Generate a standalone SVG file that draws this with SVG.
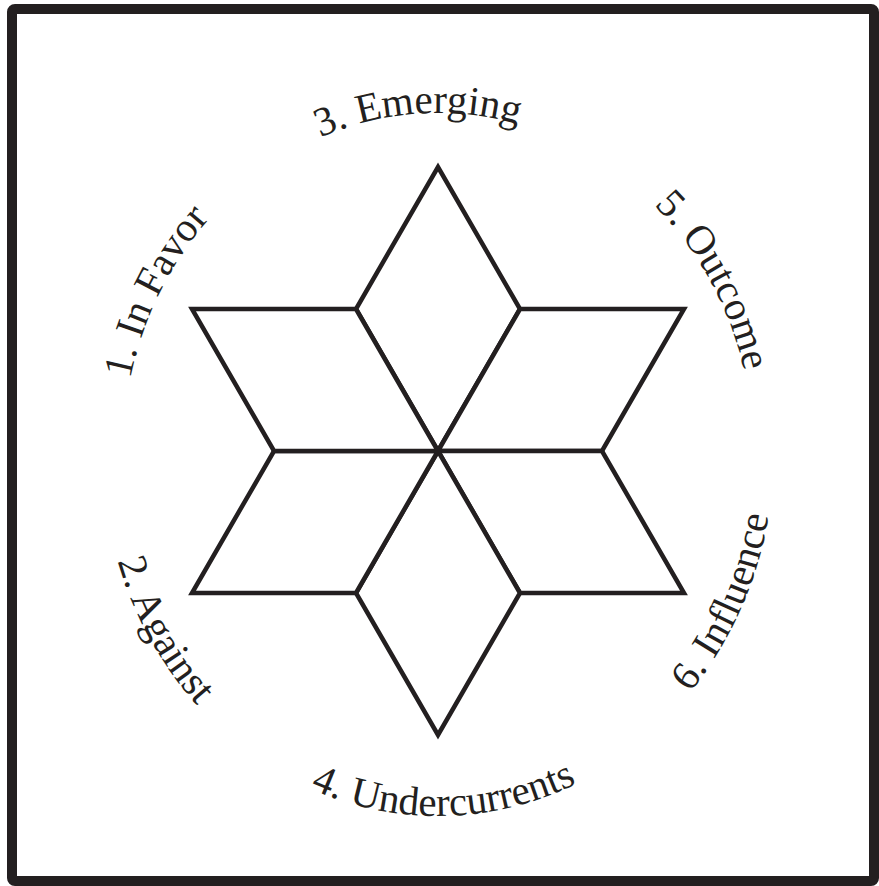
<svg xmlns="http://www.w3.org/2000/svg" xmlns:xlink="http://www.w3.org/1999/xlink" width="879" height="886" viewBox="0 0 879 886">
<style>
.frame{fill:#fff;stroke:#231f20;stroke-width:10}
.rh{fill:#fff;stroke:#231f20;stroke-width:4.5;stroke-linejoin:miter}
.lbl{font-family:"Liberation Serif","Times New Roman",serif;font-size:41px;fill:#231f20;text-anchor:middle}
</style>
<defs>
<path id="p1" d="M135.8,546.4 A315,338 0 0 1 349.1,126.8"/>
<path id="p3" d="M202.1,227.0 A315,338 0 0 1 646.7,197.8"/>
<path id="p5" d="M514.7,123.2 A315,338 0 0 1 743.5,533.3"/>
<path id="p2" d="M110.9,367.6 A336,365 0 0 0 361.3,806.4"/>
<path id="p4" d="M204.6,713.5 A336,365 0 0 0 679.7,704.6"/>
<path id="p6" d="M544.0,797.3 A336,365 0 0 0 756.8,335.8"/>
</defs>
<rect class="frame" x="12" y="9" width="862" height="872" rx="3"/>
<g id="star">
<polygon id="r-top" class="rh" points="438,451 356,309 438,167 520,309"/>
<polygon id="r-ur" class="rh" points="438,451 520,309 684,309 602,451"/>
<polygon id="r-lr" class="rh" points="438,451 602,451 684,593 520,593"/>
<polygon id="r-bot" class="rh" points="438,451 520,593 438,735 356,593"/>
<polygon id="r-ll" class="rh" points="438,451 356,593 192,593 274,451"/>
<polygon id="r-ul" class="rh" points="438,451 274,451 192,309 356,309"/>
</g>
<g id="labels">
<text id="l1" class="lbl"><textPath xlink:href="#p1" startOffset="50%">1. In Favor</textPath></text>
<text id="l3" class="lbl"><textPath xlink:href="#p3" startOffset="50%">3. Emerging</textPath></text>
<text id="l5" class="lbl"><textPath xlink:href="#p5" startOffset="50%">5. Outcome</textPath></text>
<text id="l2" class="lbl"><textPath xlink:href="#p2" startOffset="50%">2. Against</textPath></text>
<text id="l4" class="lbl"><textPath xlink:href="#p4" startOffset="50%">4. Undercurrents</textPath></text>
<text id="l6" class="lbl"><textPath xlink:href="#p6" startOffset="50%">6. Influence</textPath></text>
</g>
</svg>
